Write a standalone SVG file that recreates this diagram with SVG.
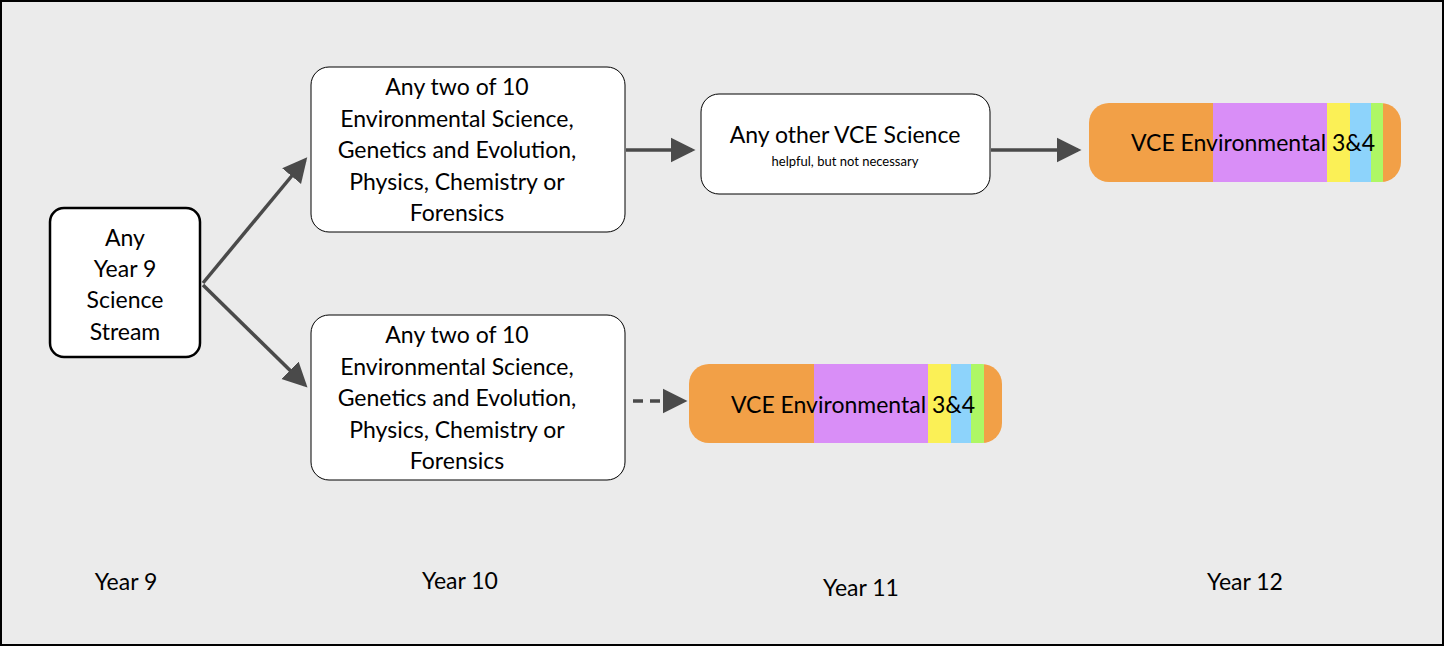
<svg xmlns="http://www.w3.org/2000/svg" width="1444" height="646" viewBox="0 0 1444 646">
<defs>
<marker id="ah" markerWidth="8" markerHeight="8" refX="6" refY="4" orient="auto" markerUnits="strokeWidth"><path d="M0,0.5 L7,4 L0,7.5 Z" fill="#4a4a4a"/></marker>
<clipPath id="c1"><rect x="1089" y="103" width="312" height="79" rx="20"/></clipPath>
<clipPath id="c2"><rect x="689" y="364" width="313" height="79" rx="20"/></clipPath>
</defs>
<style>
text{font-family:Lato,"Open Sans","Liberation Sans",sans-serif;fill:#000;text-anchor:middle}
.t{font-size:23px}
.box{fill:#fff;stroke:#000;stroke-width:1}
.conn{stroke:#4a4a4a;stroke-width:3.5;fill:none;marker-end:url(#ah)}
</style>
<rect x="1" y="1" width="1442" height="644" fill="#ebebeb" stroke="#000" stroke-width="2"/>
<g id="connectors">
<path class="conn" d="M203,283 L305,160"/>
<path class="conn" d="M203,285 L305,385"/>
<path class="conn" d="M626,150 L692,150"/>
<path class="conn" d="M991,150 L1078,150"/>
<path class="conn" d="M633,401 L684,401" stroke-dasharray="10,7"/>
</g>
<g id="year9node">
<rect x="50" y="208" width="150" height="149" rx="14" fill="#fff" stroke="#000" stroke-width="2.5"/>
<text class="t" x="125" y="246">Any</text>
<text class="t" x="125" y="277">Year 9</text>
<text class="t" x="125" y="308">Science</text>
<text class="t" x="125" y="340">Stream</text>
</g>
<g id="y10top">
<rect class="box" x="311" y="67" width="314" height="165" rx="18"/>
<text class="t" x="457" y="95">Any two of 10</text>
<text class="t" x="457" y="127">Environmental Science,</text>
<text class="t" x="457" y="158">Genetics and Evolution,</text>
<text class="t" x="457" y="190">Physics, Chemistry or</text>
<text class="t" x="457" y="221">Forensics</text>
</g>
<g id="y10bottom">
<rect class="box" x="311" y="315" width="314" height="165" rx="18"/>
<text class="t" x="457" y="343">Any two of 10</text>
<text class="t" x="457" y="375">Environmental Science,</text>
<text class="t" x="457" y="406">Genetics and Evolution,</text>
<text class="t" x="457" y="438">Physics, Chemistry or</text>
<text class="t" x="457" y="469">Forensics</text>
</g>
<g id="y11">
<rect class="box" x="701" y="94" width="289" height="100" rx="18"/>
<text class="t" x="845" y="143">Any other VCE Science</text>
<text x="845" y="166" font-size="13">helpful, but not necessary</text>
</g>
<g id="y12bar">
<g clip-path="url(#c1)">
<rect x="1089" y="103" width="124" height="79" fill="#f2a047"/>
<rect x="1213" y="103" width="114" height="79" fill="#d98ef7"/>
<rect x="1327" y="103" width="23" height="79" fill="#fbf056"/>
<rect x="1350" y="103" width="21" height="79" fill="#8dd3fb"/>
<rect x="1371" y="103" width="12" height="79" fill="#aef764"/>
<rect x="1383" y="103" width="18" height="79" fill="#f2a047"/>
</g>
<text class="t" x="1253" y="151">VCE Environmental 3&amp;4</text>
</g>
<g id="y11bar">
<g clip-path="url(#c2)">
<rect x="689" y="364" width="125" height="79" fill="#f2a047"/>
<rect x="814" y="364" width="114" height="79" fill="#d98ef7"/>
<rect x="928" y="364" width="23" height="79" fill="#fbf056"/>
<rect x="951" y="364" width="20" height="79" fill="#8dd3fb"/>
<rect x="971" y="364" width="13" height="79" fill="#aef764"/>
<rect x="984" y="364" width="18" height="79" fill="#f2a047"/>
</g>
<text class="t" x="853" y="413">VCE Environmental 3&amp;4</text>
</g>
<g id="labels">
<text class="t" x="126" y="590">Year 9</text>
<text class="t" x="460" y="589">Year 10</text>
<text class="t" x="861" y="596">Year 11</text>
<text class="t" x="1245" y="590">Year 12</text>
</g>
</svg>
